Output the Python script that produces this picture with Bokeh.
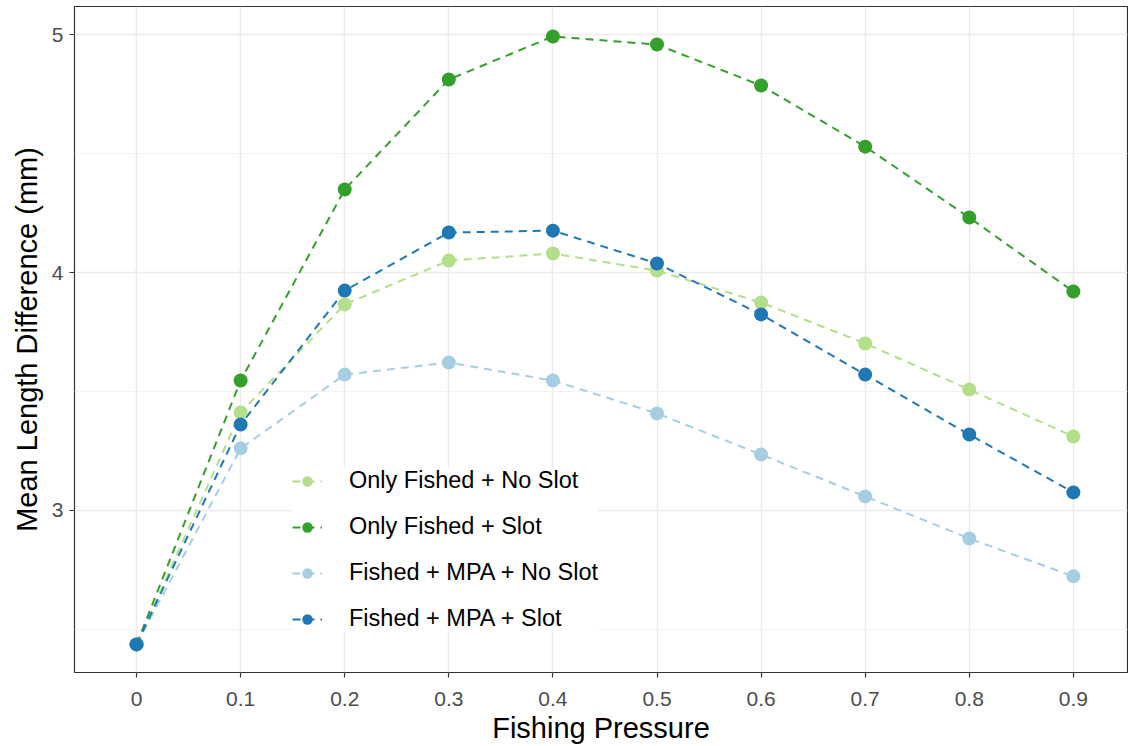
from bokeh.plotting import figure
from bokeh.models import Range1d, FixedTicker, Legend, LegendItem
from bokeh.embed import file_html
from bokeh.resources import INLINE

pressure = [0.0, 0.1, 0.2, 0.3, 0.4, 0.5, 0.6, 0.7, 0.8, 0.9]
x_tick_labels = ["0", "0.1", "0.2", "0.3", "0.4", "0.5", "0.6", "0.7", "0.8", "0.9"]
y_ticks = [3, 4, 5]
y_minor = [2.5, 3.5, 4.5]

series_names = ["Only Fished + No Slot", "Only Fished + Slot",
                "Fished + MPA + No Slot", "Fished + MPA + Slot"]
only_fished_no_slot = [2.437, 3.412, 3.866, 4.050, 4.080, 4.008, 3.874, 3.702, 3.508, 3.311]
only_fished_slot = [2.437, 3.546, 4.349, 4.811, 4.992, 4.958, 4.786, 4.529, 4.231, 3.920]
mpa_no_slot = [2.437, 3.261, 3.571, 3.622, 3.546, 3.408, 3.235, 3.059, 2.882, 2.723]
mpa_slot = [2.437, 3.361, 3.924, 4.168, 4.176, 4.038, 3.824, 3.571, 3.319, 3.076]
colors = ["#B2DF8A", "#33A02C", "#A6CEE3", "#1F78B4"]

values = [only_fished_no_slot, only_fished_slot, mpa_no_slot, mpa_slot]

FONT = "Liberation Sans"

p = figure(width=1128, height=746, output_backend="svg", toolbar_location=None,
           x_range=Range1d(-0.0596, 0.952), y_range=Range1d(2.319, 5.118),
           min_border_left=74, min_border_right=1, min_border_top=6, min_border_bottom=74)
p.background_fill_color = "white"
p.border_fill_color = "white"
p.outline_line_color = "#333333"
p.outline_line_width = 1.2

p.xaxis.ticker = FixedTicker(ticks=pressure)
p.yaxis.ticker = FixedTicker(ticks=y_ticks, minor_ticks=y_minor)
p.xaxis.major_label_overrides = {v: l for v, l in zip(pressure, x_tick_labels)}
p.yaxis.major_label_overrides = {v: str(v) for v in y_ticks}
p.xgrid.grid_line_color = "#EBEBEB"
p.xgrid.grid_line_width = 1.5
p.ygrid.grid_line_color = "#EBEBEB"
p.ygrid.grid_line_width = 1.5
p.ygrid.minor_grid_line_color = "#F2F2F2"
p.ygrid.minor_grid_line_width = 1.0

for ax in (p.xaxis, p.yaxis):
    ax.axis_line_color = None
    ax.major_tick_line_color = "#333333"
    ax.major_tick_line_width = 1.2
    ax.major_tick_out = 5
    ax.major_tick_in = 0
    ax.minor_tick_line_color = None
    ax.major_label_text_font = FONT
    ax.major_label_text_font_size = "21px"
    ax.major_label_text_color = "#4D4D4D"
    ax.axis_label_text_font = FONT
    ax.axis_label_text_font_size = "29px"
    ax.axis_label_text_font_style = "normal"
    ax.axis_label_text_color = "black"

p.xaxis.axis_label = "Fishing Pressure"
p.yaxis.axis_label = "Mean Length Difference (mm)"
p.xaxis.major_label_standoff = 14
p.xaxis.axis_label_standoff = 3
p.yaxis.major_label_standoff = 6
p.yaxis.axis_label_standoff = 6

line_rs = []
for vals, c in zip(values, colors):
    line_rs.append(p.line(pressure, vals, line_color=c, line_width=2, line_dash="8 6"))
pt_rs = []
for vals, c in zip(values, colors):
    pt_rs.append(p.scatter(pressure, vals, size=14, fill_color=c, line_color=c, line_width=0))

items = [LegendItem(label=n, renderers=[l, s]) for n, l, s in zip(series_names, line_rs, pt_rs)]
legend = Legend(items=items, location=(218, 40))
legend.label_text_font = FONT
legend.label_text_font_size = "23.5px"
legend.label_text_color = "black"
legend.glyph_width = 30
legend.glyph_height = 26
legend.label_height = 26
legend.label_standoff = 27
legend.spacing = 19
legend.padding = 18
legend.margin = 0
legend.border_line_color = None
legend.background_fill_color = "white"
legend.background_fill_alpha = 1.0
p.add_layout(legend)

open("out.html", "w").write(file_html(p, INLINE))
